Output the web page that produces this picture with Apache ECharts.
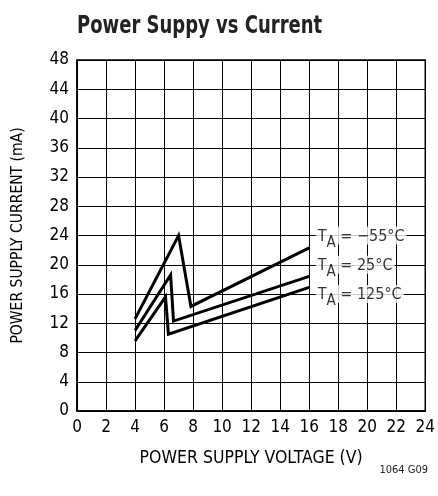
<!DOCTYPE html>
<html><head><meta charset="utf-8">
<script src="https://cdn.jsdelivr.net/npm/echarts@6/dist/echarts.min.js"></script>
<style>html,body{margin:0;padding:0;background:#fff}#c{width:438px;height:496px}</style>
</head><body><div id="c"></div>
<script>
var xTicks = [0,2,4,6,8,10,12,14,16,18,20,22,24];
var yTicks = [0,4,8,12,16,20,24,28,32,36,40,44,48];
var seriesNames = ['TA = -55°C','TA = 25°C','TA = 125°C'];
var volts55 = [4, 7.0, 7.85, 16];
var curr55 = [12.6, 24.0, 14.3, 22.3];
var volts25 = [4, 6.45, 6.65, 16];
var curr25 = [11.0, 18.6, 12.3, 18.4];
var volts125 = [4, 6.1, 6.3, 16];
var curr125 = [9.6, 15.6, 10.5, 16.9];
var labelPos = [[16.45, 24], [16.45, 20], [16.45, 16]];
var labelTemps = ['\u221255°C', '25°C', '125°C'];

var FONT = '"Liberation Sans Narrow","DejaVu Sans Condensed",sans-serif';
function pts(xs, ys){ return xs.map(function(x,i){return [x, ys[i]];}); }
var chart = echarts.init(document.getElementById('c'));
var lineSeries = [[volts55,curr55],[volts25,curr25],[volts125,curr125]].map(function(d,i){
  return {type:'line', name:seriesNames[i], data:pts(d[0],d[1]), symbol:'none',
    lineStyle:{color:'#000', width:3, join:'miter'}, z:3, animation:false};
});
var labelSeries = {
  type:'scatter', symbolSize:0, z:5, animation:false,
  data: labelPos.map(function(p,i){return {value:p, temp:labelTemps[i]};}),
  label:{show:true, position:'right', distance:0,
    formatter:function(p){return '{t|T}{s|A}{t| = '+p.data.temp+'}';},
    backgroundColor:'#fff', padding:[0,2,0,2],
    rich:{t:{fontFamily:FONT, fontSize:16, color:'#000', verticalAlign:'bottom', lineHeight:18},
          s:{fontFamily:FONT, fontSize:15, color:'#000', verticalAlign:'bottom', lineHeight:18, padding:[0,0,-6,0]}}}
};
chart.setOption({
  animation:false,
  graphic:[
    {type:'text', left:77, top:14, scaleX:0.8, scaleY:1, originX:0, originY:0,
     style:{text:'Power Suppy vs Current', font:'bold 25px '+FONT, fill:'#222'}},
    {type:'text', right:10, top:465, style:{text:'1064 G09', font:'11px '+FONT, fill:'#222'}}
  ],
  grid:{left:77, right:10, top:60, bottom:85, show:true, borderColor:'#000', borderWidth:1.5},
  xAxis:{type:'value', min:0, max:24, interval:2,
    name:'POWER SUPPLY VOLTAGE (V)', nameLocation:'middle', nameGap:38,
    nameTextStyle:{fontFamily:FONT, fontSize:17.5, color:'#000'},
    axisLine:{show:true, lineStyle:{color:'#000', width:1.5}}, axisTick:{show:false},
    axisLabel:{fontFamily:FONT, fontSize:17, color:'#000', margin:8},
    splitLine:{show:true, lineStyle:{color:'#000', width:1}}},
  yAxis:{type:'value', min:0, max:48, interval:4,
    name:'POWER SUPPLY CURRENT (mA)', nameLocation:'middle', nameGap:51,
    nameTextStyle:{fontFamily:FONT, fontSize:15.5, color:'#000'},
    axisLine:{show:true, lineStyle:{color:'#000', width:1.5}}, axisTick:{show:false},
    axisLabel:{fontFamily:FONT, fontSize:17, color:'#000', margin:8},
    splitLine:{show:true, lineStyle:{color:'#000', width:1}}},
  series: lineSeries.concat([labelSeries])
});
</script></body></html>
